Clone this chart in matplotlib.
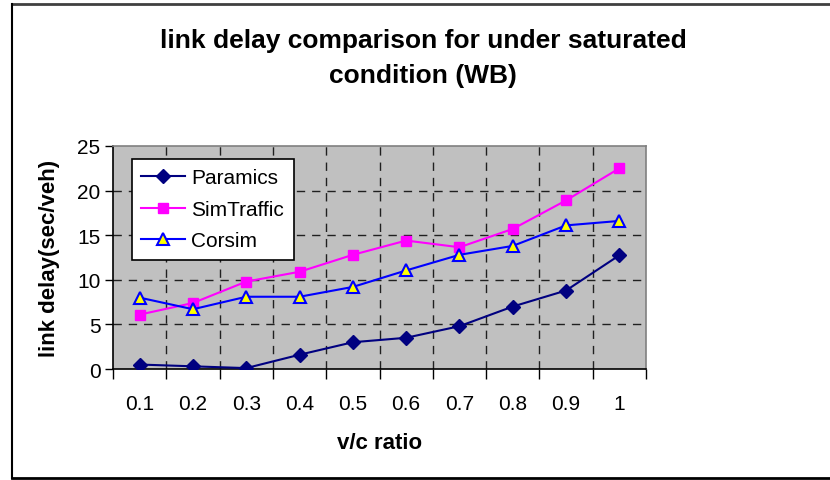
import matplotlib
matplotlib.use("Agg")
import matplotlib.pyplot as plt
from matplotlib.lines import Line2D
import numpy as np

plt.rcParams['font.family'] = ['Liberation Sans', 'DejaVu Sans']

categories = ["0.1", "0.2", "0.3", "0.4", "0.5", "0.6", "0.7", "0.8", "0.9", "1"]
paramics = [0.5, 0.3, 0.1, 1.6, 3.0, 3.5, 4.8, 7.0, 8.8, 12.75]
simtraffic = [6.1, 7.4, 9.8, 10.9, 12.8, 14.4, 13.65, 15.7, 18.9, 22.5]
corsim = [8.0, 6.7, 8.1, 8.1, 9.2, 11.05, 12.8, 13.8, 16.1, 16.6]
y_ticks = [0, 5, 10, 15, 20, 25]

W, H = 830, 481
fig = plt.figure(figsize=(W / 100, H / 100), dpi=100)
ax = fig.add_axes([113 / W, 1 - 370 / H, (646 - 113) / W, (370 - 147) / H])
ax.set_facecolor('#C0C0C0')

x = np.arange(len(categories))
ax.plot(x, paramics, color='#000080', lw=1.5, marker='D', ms=7,
        mfc='#000080', mec='#000080', label='Paramics', zorder=3)
ax.plot(x, simtraffic, color='#FF00FF', lw=1.5, marker='s', ms=7.5,
        mfc='#FF00FF', mec='#FF00FF', label='SimTraffic', zorder=3)
ax.plot(x, corsim, color='#0000FF', lw=1.5, marker='^', ms=9,
        mfc='#FFFF00', mec='#0000FF', mew=1.5, label='Corsim', zorder=4)

ax.set_xlim(-0.5, len(categories) - 0.5)
ax.set_ylim(0, 25)
ax.set_xticks(x)
ax.set_xticklabels(categories, fontsize=15)
ax.set_xticks(np.arange(len(categories) + 1) - 0.5, minor=True)
ax.tick_params(axis='x', which='major', length=0, pad=18)
ax.tick_params(axis='x', which='minor', length=7, width=1, direction='out', color='black')
ax.set_yticks(y_ticks)
ax.set_yticklabels([str(v) for v in y_ticks], fontsize=15)
ax.tick_params(axis='y', length=6, width=1, direction='out', pad=3)

ax.grid(False)
for v in np.arange(len(categories) + 1)[1:-1] - 0.5:
    ax.axvline(v, color='#202020', lw=1, ls=(0, (6, 5)), zorder=1)
for v in y_ticks[1:-1]:
    ax.axhline(v, color='#202020', lw=1, ls=(0, (6, 5)), zorder=1)

ax.spines['left'].set_color('black')
ax.spines['bottom'].set_color('black')
ax.spines['top'].set_color('#808080')
ax.spines['right'].set_color('#808080')
for s in ax.spines.values():
    s.set_linewidth(1.2)

ax.set_xlabel('v/c ratio', fontsize=16, fontweight='bold', labelpad=14)
ax.set_ylabel('link delay(sec/veh)', fontsize=16, fontweight='bold', labelpad=12)

fig.text(423 / W, 1 - 41 / H, 'link delay comparison for under saturated',
         ha='center', va='center', fontsize=19, fontweight='bold')
fig.text(423 / W, 1 - 76 / H, 'condition (WB)',
         ha='center', va='center', fontsize=19, fontweight='bold')

leg = ax.legend(loc='upper left', bbox_to_anchor=(132 / W, 1 - 160 / H),
                bbox_transform=fig.transFigure, fontsize=15, frameon=True,
                fancybox=False, shadow=False, handlelength=2.1, handletextpad=0.3,
                labelspacing=0.6, borderpad=0.45, borderaxespad=0)
leg.get_frame().set_edgecolor('black')
leg.get_frame().set_facecolor('white')
leg.get_frame().set_linewidth(1.2)
leg.get_frame().set_alpha(1)

# outer chart border
fig.add_artist(Line2D([12 / W, 1], [1 - 5 / H, 1 - 5 / H], transform=fig.transFigure,
                      color='#404040', lw=2))
fig.add_artist(Line2D([12 / W, 1], [1 - 479 / H, 1 - 479 / H], transform=fig.transFigure,
                      color='black', lw=2))
fig.add_artist(Line2D([12 / W, 12 / W], [1 - 5 / H, 1 - 479 / H], transform=fig.transFigure,
                      color='black', lw=1.5))

fig.savefig('out.png', dpi=100)
